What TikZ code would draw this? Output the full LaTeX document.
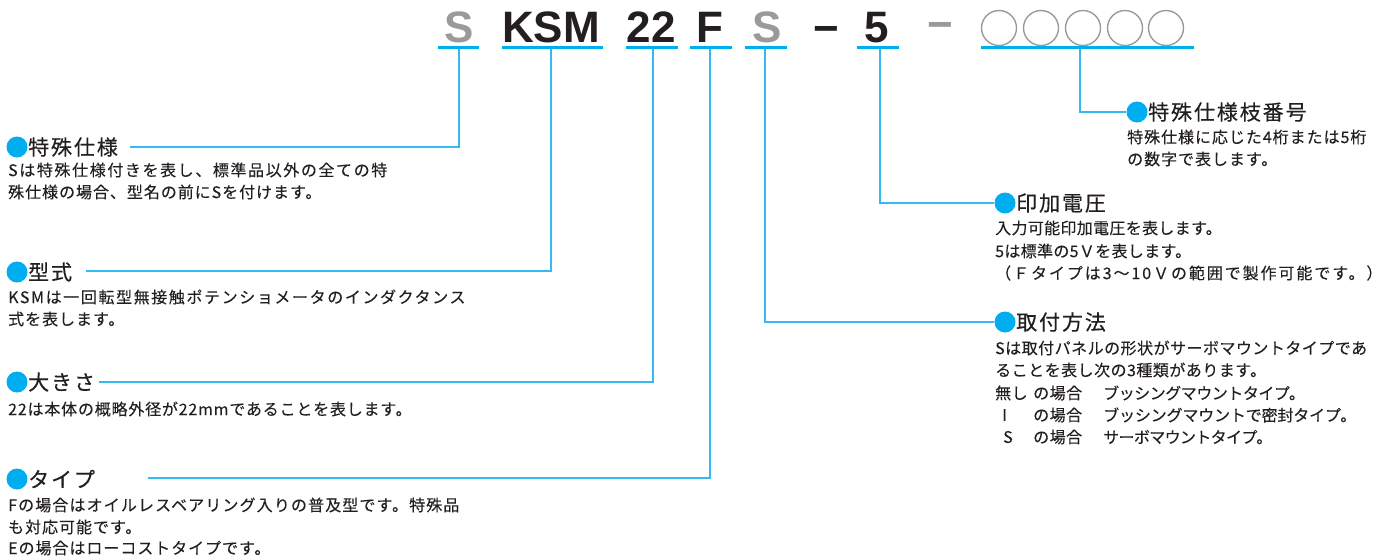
\documentclass[tikz,border=0pt]{standalone}
\usepackage{fontspec}
\setmainfont{Noto Sans CJK JP}
\newfontfamily\bodyfont[FakeBold=0.15]{Noto Sans CJK JP}
\newfontfamily\titlefont[LetterSpace=9,FakeBold=0.4]{Noto Sans CJK JP}
\newfontfamily\codefont{Liberation Sans}
\definecolor{cblue}{HTML}{00AEEF}
\definecolor{lblue}{HTML}{33BBF0}
\definecolor{cgray}{HTML}{9A9A9A}
\definecolor{ink}{HTML}{231F20}
\tikzset{
  code/.style={font=\codefont\bfseries\fontsize{44}{44}\selectfont, inner sep=0pt, anchor=base},
  uline/.style={draw=cblue, line width=3pt},
  conn/.style={draw=lblue, line width=1.2pt},
  bdot/.style={circle, fill=cblue, minimum size=21pt, inner sep=0pt},
  ttl/.style={font=\titlefont\fontsize{21}{21}\selectfont, anchor=west, inner sep=0pt, text=ink},
  bdy/.style={font=\bodyfont\fontsize{16}{16}\selectfont\addfontfeature{LetterSpace=#1}, anchor=west, inner sep=0pt, text=ink},
  bdy/.default=6,
  ring/.style={circle, draw=cgray, line width=1.4pt, minimum size=35pt, inner sep=0pt}
}
\begin{document}
\begin{tikzpicture}[x=1pt,y=-1pt]
\useasboundingbox (0,0) rectangle (1383,558);
% ---- code line
\node[code, text=cgray] (s1) at (459,42) {S};
\node[code, text=ink] (ksm) at (551,42) {KSM};
\node[code, text=ink] (n22) at (651,42) {22};
\node[code, text=ink] (f) at (710,42) {F};
\node[code, text=cgray] (s2) at (767,42) {S};
\node[code, text=ink, anchor=center] (m1) at (826,35) {−};
\node[code, text=ink] (n5) at (877,42) {5};
\node[code, text=cgray, anchor=center] (m2) at (940,31) {−};
\foreach \i/\x in {1/999,2/1041,3/1083,4/1125,5/1166}
  \node[ring] (c\i) at (\x,28) {};
\draw[uline] (438,47.5) -- (479,47.5);
\draw[uline] (502,47.5) -- (603,47.5);
\draw[uline] (626,47.5) -- (678,47.5);
\draw[uline] (690,47.5) -- (732,47.5);
\draw[uline] (745,47.5) -- (787,47.5);
\draw[uline] (857,47.5) -- (899,47.5);
\draw[uline] (981,47.5) -- (1194,47.5);
\coordinate (u1) at (459,49);
\coordinate (u2) at (551,49);
\coordinate (u3) at (653,49);
\coordinate (u4) at (710,49);
\coordinate (u5) at (765,49);
\coordinate (u6) at (880,49);
\coordinate (u7) at (1080,49);
% ---- left labels
\node[bdot] (d1) at (17,147) {};
\node[ttl] (t1) at (28,147) {特殊仕様};
\node[bdy=10] (b1a) at (8,170) {Sは特殊仕様付きを表し、標準品以外の全ての特};
\node[bdy] (b1b) at (8,192) {殊仕様の場合、型名の前にSを付けます。};
\coordinate (e1) at (130,147);
\node[bdot] (d2) at (17,272) {};
\node[ttl] (t2) at (28,272) {型式};
\node[bdy=10] (b2a) at (8,297) {KSMは一回転型無接触ポテンショメータのインダクタンス};
\node[bdy] (b2b) at (8,319) {式を表します。};
\coordinate (e2) at (86,271);
\node[bdot] (d3) at (17,382) {};
\node[ttl] (t3) at (28,382) {大きさ};
\node[bdy=5] (b3a) at (8,409) {22は本体の概略外径が22mmであることを表します。};
\coordinate (e3) at (99,382);
\node[bdot] (d4) at (17,479) {};
\node[ttl] (t4) at (28,479) {タイプ};
\node[bdy=7] (b4a) at (8,505) {Fの場合はオイルレスベアリング入りの普及型です。特殊品};
\node[bdy] (b4b) at (8,527) {も対応可能です。};
\node[bdy] (b4c) at (8,548) {Eの場合はローコストタイプです。};
\coordinate (e4) at (148,478);
% ---- right labels
\node[bdot] (d7) at (1137,112) {};
\node[ttl] (t7) at (1148,112) {特殊仕様枝番号};
\node[bdy] (b7a) at (1127,137) {特殊仕様に応じた4桁または5桁};
\node[bdy] (b7b) at (1127,159) {の数字で表します。};
\node[bdot] (d6) at (1005,203) {};
\node[ttl] (t6) at (1016,203) {印加電圧};
\node[bdy=2] (b6a) at (995,228) {入力可能印加電圧を表します。};
\node[bdy=2] (b6b) at (995,251) {5は標準の5Ｖを表します。};
\node[bdy=12] (b6c) at (995,273) {（Ｆタイプは3〜10Ｖの範囲で製作可能です。）};
\node[bdot] (d5) at (1005,322) {};
\node[ttl] (t5) at (1016,322) {取付方法};
\node[bdy=3] (b5a) at (995,348) {Sは取付パネルの形状がサーボマウントタイプであ};
\node[bdy=3] (b5b) at (995,370) {ることを表し次の3種類があります。};
\node[bdy=3] (b5c) at (995,393) {無し};
\node[bdy] (b5d) at (1002,415) {I};
\node[bdy] (b5e) at (1003,437) {S};
\node[bdy=3] (b5f) at (1033,393) {の場合};
\node[bdy=3] (b5g) at (1033,415) {の場合};
\node[bdy=3] (b5h) at (1033,437) {の場合};
\node[bdy=-3] (b5i) at (1103,393) {ブッシングマウントタイプ。};
\node[bdy=-1] (b5j) at (1103,415) {ブッシングマウントで密封タイプ。};
\node[bdy=-4] (b5k) at (1103,437) {サーボマウントタイプ。};
% ---- connectors
\draw[conn] (u1) |- (e1);
\draw[conn] (u2) |- (e2);
\draw[conn] (u3) |- (e3);
\draw[conn] (u4) |- (e4);
\draw[conn] (u5) |- (d5.west);
\draw[conn] (u6) |- (d6.west);
\draw[conn] (u7) |- (d7.west);
\end{tikzpicture}
\end{document}
